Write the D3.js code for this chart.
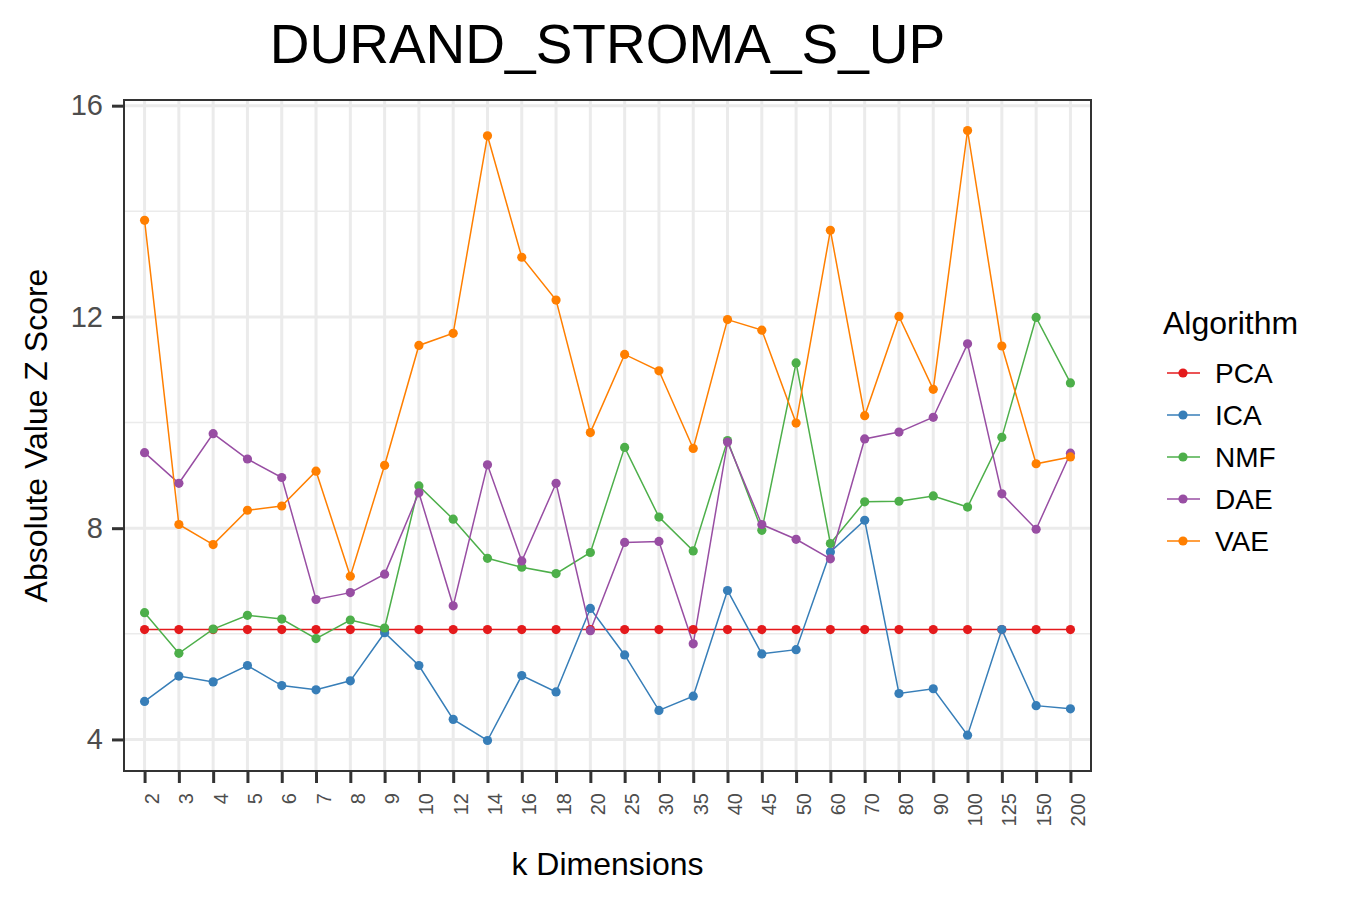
<!DOCTYPE html>
<html>
<head>
<meta charset="utf-8">
<script src="https://cdn.jsdelivr.net/npm/d3@7"></script>
<style>
  body { margin: 0; background: #fff; }
  text { font-family: "Liberation Sans", Arial, sans-serif; }
</style>
</head>
<body>
<div id="chart"></div>
<script>
const kDims = ["2","3","4","5","6","7","8","9","10","12","14","16","18","20","25","30","35","40","45","50","60","70","80","90","100","125","150","200"];
const algorithms = ["PCA", "ICA", "NMF", "DAE", "VAE"];
const colors = ["#E41A1C", "#377EB8", "#4DAF4A", "#984EA3", "#FF7F00"];

const pcaScores = [6.08,6.08,6.08,6.08,6.08,6.08,6.08,6.08,6.08,6.08,6.08,6.08,6.08,6.08,6.08,6.08,6.08,6.08,6.08,6.08,6.08,6.08,6.08,6.08,6.08,6.08,6.08,6.08];
const icaScores = [4.72,5.20,5.09,5.40,5.02,4.94,5.11,6.02,5.40,4.38,3.98,5.21,4.90,6.48,5.60,4.55,4.82,6.82,5.62,5.70,7.55,8.15,4.87,4.96,4.08,6.08,4.64,4.58];
const nmfScores = [6.40,5.63,6.09,6.35,6.28,5.91,6.26,6.11,8.80,8.17,7.43,7.26,7.14,7.54,9.53,8.21,7.57,9.66,7.96,11.13,7.71,8.50,8.51,8.61,8.40,9.72,11.99,10.75];
const daeScores = [9.43,8.85,9.79,9.31,8.96,6.65,6.78,7.13,8.67,6.53,9.20,7.38,8.85,6.06,7.73,7.75,5.81,9.63,8.07,7.79,7.42,9.69,9.82,10.10,11.49,8.65,7.98,9.42];
const vaeScores = [13.83,8.07,7.69,8.34,8.42,9.08,7.09,9.19,11.46,11.69,15.43,13.13,12.32,9.81,11.29,10.98,9.51,11.95,11.75,9.99,13.64,10.13,12.01,10.63,15.53,11.45,9.22,9.35];

const yTicks = [4, 8, 12, 16];
const yMinor = [6, 10, 14];

const width = 1350, height = 900;
const panel = { left: 124, right: 1091, top: 100, bottom: 771 };

const allSeries = [pcaScores, icaScores, nmfScores, daeScores, vaeScores];
const series = algorithms.map((name, i) => ({
    name,
    color: colors[i],
    values: allSeries[i].map((v, j) => ({ k: kDims[j], v }))
}));

const svg = d3.select("#chart").append("svg")
    .attr("width", width)
    .attr("height", height);

const x = d3.scalePoint()
    .domain(kDims)
    .range([panel.left, panel.right])
    .padding(0.6);

// ggplot-style 5% expansion
const ext = d3.extent(allSeries.flat());
const pad = (ext[1] - ext[0]) * 0.05;
const y = d3.scaleLinear()
    .domain([ext[0] - pad, ext[1] + pad])
    .range([panel.bottom, panel.top]);

// grid
const grid = svg.append("g");
grid.selectAll(".minor").data(yMinor).enter().append("line")
    .attr("x1", panel.left).attr("x2", panel.right)
    .attr("y1", d => y(d)).attr("y2", d => y(d))
    .attr("stroke", "#ebebeb").attr("stroke-width", 1.5);
grid.selectAll(".hmajor").data(yTicks).enter().append("line")
    .attr("x1", panel.left).attr("x2", panel.right)
    .attr("y1", d => y(d)).attr("y2", d => y(d))
    .attr("stroke", "#ebebeb").attr("stroke-width", 3);
grid.selectAll(".vmajor").data(kDims).enter().append("line")
    .attr("x1", d => x(d)).attr("x2", d => x(d))
    .attr("y1", panel.top).attr("y2", panel.bottom)
    .attr("stroke", "#ebebeb").attr("stroke-width", 3);

// lines then points
const line = d3.line()
    .x(d => x(d.k))
    .y(d => y(d.v));

svg.append("g").selectAll("path").data(series).enter().append("path")
    .attr("d", d => line(d.values))
    .attr("fill", "none")
    .attr("stroke", d => d.color)
    .attr("stroke-width", 1.5);

series.forEach(s => {
    svg.append("g").selectAll("circle").data(s.values).enter().append("circle")
        .attr("cx", d => x(d.k))
        .attr("cy", d => y(d.v))
        .attr("r", 4.6)
        .attr("fill", s.color);
});

// panel border
svg.append("rect")
    .attr("x", panel.left).attr("y", panel.top)
    .attr("width", panel.right - panel.left)
    .attr("height", panel.bottom - panel.top)
    .attr("fill", "none")
    .attr("stroke", "#333").attr("stroke-width", 2);

// y axis
const yAxis = svg.append("g")
    .attr("transform", `translate(${panel.left - 1},0)`)
    .call(d3.axisLeft(y).tickValues(yTicks).tickSize(11).tickPadding(9).tickFormat(d3.format("d")));
yAxis.select(".domain").remove();
yAxis.selectAll(".tick line").attr("stroke", "#333").attr("stroke-width", 3);
yAxis.selectAll(".tick text")
    .attr("fill", "#4d4d4d")
    .style("font-size", "29px")
    .style("font-family", "Liberation Sans, Arial, sans-serif");

// x axis
const xAxis = svg.append("g")
    .attr("transform", `translate(0,${panel.bottom + 1})`)
    .call(d3.axisBottom(x).tickSize(11).tickPadding(0));
xAxis.select(".domain").remove();
xAxis.selectAll(".tick line").attr("stroke", "#333").attr("stroke-width", 3);
xAxis.selectAll(".tick text")
    .attr("fill", "#4d4d4d")
    .attr("text-anchor", "end")
    .attr("dy", null)
    .attr("y", 0)
    .attr("transform", "translate(14,21) rotate(-90)")
    .style("font-size", "20px")
    .style("font-family", "Liberation Sans, Arial, sans-serif");

// titles
svg.append("text")
    .attr("x", (panel.left + panel.right) / 2)
    .attr("y", 63)
    .attr("text-anchor", "middle")
    .style("font-size", "55px")
    .text("DURAND_STROMA_S_UP");

svg.append("text")
    .attr("x", (panel.left + panel.right) / 2)
    .attr("y", 875)
    .attr("text-anchor", "middle")
    .style("font-size", "32px")
    .text("k Dimensions");

svg.append("text")
    .attr("transform", `translate(47,${(panel.top + panel.bottom) / 2}) rotate(-90)`)
    .attr("text-anchor", "middle")
    .style("font-size", "32px")
    .text("Absolute Value Z Score");

// legend
const legend = svg.append("g").attr("transform", "translate(1163,0)");
legend.append("text")
    .attr("x", 0).attr("y", 334)
    .style("font-size", "32px")
    .text("Algorithm");

const items = legend.selectAll(".item").data(series).enter().append("g")
    .attr("transform", (d, i) => `translate(0,${373 + i * 42})`);
items.append("line")
    .attr("x1", 4).attr("x2", 37)
    .attr("stroke", d => d.color).attr("stroke-width", 1.5);
items.append("circle")
    .attr("cx", 20).attr("r", 4.6)
    .attr("fill", d => d.color);
items.append("text")
    .attr("x", 52).attr("y", 10)
    .style("font-size", "28px")
    .text(d => d.name);
</script>
</body>
</html>
